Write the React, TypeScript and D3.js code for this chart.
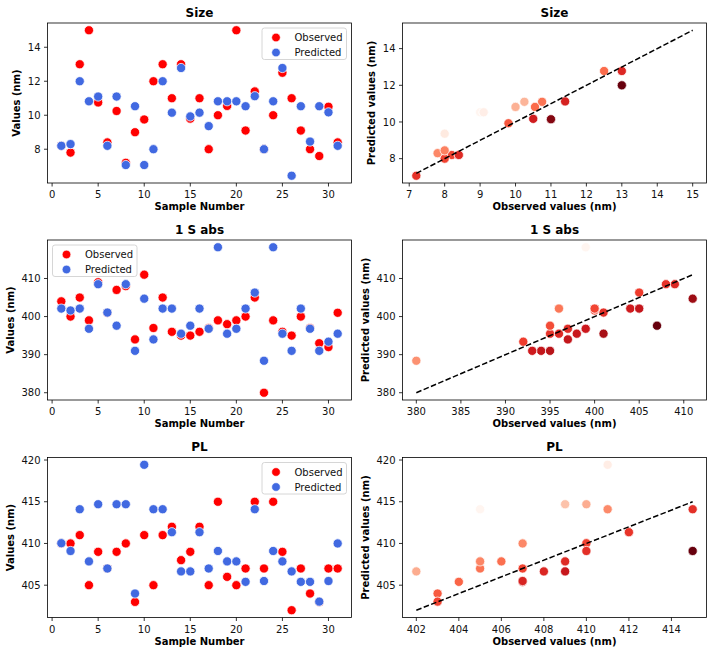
import React from "react";
import * as d3 from "d3";

// ---------------- data ----------------
const sampleNumbers = [
  1, 2, 3, 4, 5, 6, 7, 8, 9, 10, 11, 12, 13, 14, 15, 16, 17, 18, 19, 20, 21, 22, 23, 24, 25, 26, 27, 28, 29, 30, 31,
];

const sizeObserved = [
  8.2, 7.8, 13, 15, 10.75, 8.4, 10.25, 7.2, 9, 9.75, 12, 13, 11, 13, 9.8, 11, 8, 10, 10.55, 15, 9.1, 11.4, 8, 10, 12.5,
  11, 9.1, 8, 7.6, 10.5, 8.4,
];
const sizePredicted = [
  8.2, 8.3, 12, 10.82, 11.1, 8.2, 11.1, 7.07, 10.53, 7.07, 8, 12, 10.15, 12.78, 9.93, 10.15, 9.36, 10.82, 10.82, 10.82,
  10.53, 11.12, 8, 10.82, 12.78, 6.44, 10.53, 8.45, 10.53, 10.17, 8.2,
];
// samples left out of the Size parity plot
const sizeParityExcluded = [4, 10, 11, 20, 26, 29];

const absObserved = [
  404, 400, 405, 399, 409, 401, 407, 408, 394, 411, 397, 405, 396, 395, 395, 396, 397, 399, 398, 399, 400, 405, 380, 399,
  396, 395, 400, 397, 393, 392, 401,
];
const absPredicted = [
  402.1, 401.6, 402.1, 396.8, 408.5, 401.05, 397.6, 408.5, 391, 404.7, 394, 402.1, 402.1, 395.5, 397.6, 402.1, 396.8,
  418.2, 395.5, 396.8, 402.1, 406.3, 388.4, 418.2, 395.5, 391, 402.1, 396.8, 391, 393.4, 395.5,
];

const plObserved = [
  410, 410, 411, 405, 409, 407, 409, 410, 403, 411, 405, 411, 412, 408, 409, 412, 405, 415, 406, 405, 407, 415, 407, 415,
  409, 402, 407, 404, 403, 407, 407,
];
const plPredicted = [
  410.03, 409.1, 414.1, 407.85, 414.7, 407, 414.7, 414.7, 404, 419.43, 414.1, 414.1, 411.35, 406.65, 406.65, 411.35, 407,
  409.1, 407.85, 407.85, 405.4, 414.1, 405.5, 409.1, 407.85, 406.65, 405.4, 405.4, 403.03, 405.5, 410,
];

const titles = ["Size", "1 S abs", "PL"];
const sampleTicks = [0, 5, 10, 15, 20, 25, 30];
const sizeValueTicks = [8, 10, 12, 14];
const absValueTicks = [380, 390, 400, 410];
const plValueTicks = [405, 410, 415, 420];
const sizeObsTicks = [7, 8, 9, 10, 11, 12, 13, 14, 15];
const absObsTicks = [380, 385, 390, 395, 400, 405, 410];
const plObsTicks = [402, 404, 406, 408, 410, 412, 414];
const legendLabels = ["Observed", "Predicted"];

// ---------------- style ----------------
const FONT = "'DejaVu Sans', sans-serif";
const COLS = [47.5, 402.5];
const ROWS = [23, 240, 457.5];
const W = 304;
const H = 160;
const R = 4.6;
const OBS_COLOR = "#ff0000";
const PRED_COLOR = "#4169e1";
const REDS = ["#fff5f0", "#fee0d2", "#fcbba1", "#fc9272", "#fb6a4a", "#ef3b2c", "#cb181d", "#a50f15", "#67000d"];

function padExtent(lo: number, hi: number): [number, number] {
  const m = (hi - lo) * 0.05;
  return [lo - m, hi + m];
}

function redsScale(lo: number, hi: number) {
  return d3
    .scaleLinear<string>()
    .domain(REDS.map((_, i) => lo + ((hi - lo) * i) / (REDS.length - 1)))
    .range(REDS)
    .interpolate(d3.interpolateRgb)
    .clamp(true);
}

function Frame({ x0, y0, title, xLabel, yLabel, xs, ys, xTicks, yTicks, children }: any) {
  const maxChars = d3.max(yTicks.map((t: number) => String(t).length)) as number;
  const yLabelX = x0 - (14.5 + 6.36 * maxChars);
  return (
    <g>
      <rect x={x0} y={y0} width={W} height={H} fill="white" />
      <g>{children}</g>
      <rect x={x0} y={y0} width={W} height={H} fill="none" stroke="black" strokeWidth={0.8} />
      {xTicks.map((t: number) => (
        <g key={"x" + t}>
          <line x1={xs(t)} x2={xs(t)} y1={y0 + H} y2={y0 + H + 3.5} stroke="black" strokeWidth={0.8} />
          <text x={xs(t)} y={y0 + H + 15.3} textAnchor="middle" fontSize={10} fontFamily={FONT} fill="#111">
            {t}
          </text>
        </g>
      ))}
      {yTicks.map((t: number) => (
        <g key={"y" + t}>
          <line x1={x0 - 3.5} x2={x0} y1={ys(t)} y2={ys(t)} stroke="black" strokeWidth={0.8} />
          <text x={x0 - 7} y={ys(t) + 3.6} textAnchor="end" fontSize={10} fontFamily={FONT} fill="#111">
            {t}
          </text>
        </g>
      ))}
      <text x={x0 + W / 2} y={y0 - 6.3} textAnchor="middle" fontSize={12} fontWeight="bold" fontFamily={FONT}>
        {title}
      </text>
      <text x={x0 + W / 2} y={y0 + H + 27.3} textAnchor="middle" fontSize={10} fontWeight="bold" fontFamily={FONT}>
        {xLabel}
      </text>
      <text
        transform={`translate(${yLabelX},${y0 + H / 2}) rotate(-90)`}
        textAnchor="middle"
        fontSize={10}
        fontWeight="bold"
        fontFamily={FONT}
      >
        {yLabel}
      </text>
    </g>
  );
}

function Legend({ x, y }: { x: number; y: number }) {
  const colors = [OBS_COLOR, PRED_COLOR];
  return (
    <g>
      <rect x={x} y={y} width={84.5} height={31.5} rx={2.5} fill="white" fillOpacity={0.8} stroke="#cccccc" strokeWidth={0.8} />
      {legendLabels.map((lab, i) => (
        <g key={lab}>
          <circle cx={x + 14} cy={y + 9.5 + i * 15} r={4.3} fill={colors[i]} stroke="white" strokeWidth={0.6} />
          <text x={x + 32.5} y={y + 13.2 + i * 15} fontSize={10} fontFamily={FONT} fill="#111">
            {lab}
          </text>
        </g>
      ))}
    </g>
  );
}

function SeriesPanel({ row, obs, pred, yTicks, legendRight }: any) {
  const x0 = COLS[0];
  const y0 = ROWS[row];
  const xs = d3.scaleLinear().domain(padExtent(d3.min(sampleNumbers)!, d3.max(sampleNumbers)!)).range([x0, x0 + W]);
  const all = [...obs, ...pred];
  const ys = d3.scaleLinear().domain(padExtent(d3.min(all)!, d3.max(all)!)).range([y0 + H, y0]);
  return (
    <Frame
      x0={x0}
      y0={y0}
      title={titles[row]}
      xLabel="Sample Number"
      yLabel="Values (nm)"
      xs={xs}
      ys={ys}
      xTicks={sampleTicks}
      yTicks={yTicks}
    >
      {obs.map((v: number, i: number) => (
        <circle key={"o" + i} cx={xs(sampleNumbers[i])} cy={ys(v)} r={R} fill={OBS_COLOR} stroke="white" strokeWidth={0.75} />
      ))}
      {pred.map((v: number, i: number) => (
        <circle key={"p" + i} cx={xs(sampleNumbers[i])} cy={ys(v)} r={R} fill={PRED_COLOR} stroke="white" strokeWidth={0.75} />
      ))}
      <Legend x={legendRight ? x0 + W - 5 - 84.5 : x0 + 5} y={y0 + 5} />
    </Frame>
  );
}

function ParityPanel({ row, obs, pred, excluded, xTicks, yTicks }: any) {
  const x0 = COLS[1];
  const y0 = ROWS[row];
  const idx = sampleNumbers.map((s, i) => i).filter((i) => !excluded.includes(sampleNumbers[i]));
  const so = idx.map((i) => obs[i]);
  const sp = idx.map((i) => pred[i]);
  const lineLo = d3.min(obs as number[])!;
  const lineHi = d3.max(obs as number[])!;
  const xs = d3
    .scaleLinear()
    .domain(padExtent(Math.min(d3.min(so)!, lineLo), Math.max(d3.max(so)!, lineHi)))
    .range([x0, x0 + W]);
  const ys = d3
    .scaleLinear()
    .domain(padExtent(Math.min(d3.min(sp)!, lineLo), Math.max(d3.max(sp)!, lineHi)))
    .range([y0 + H, y0]);
  const hue = idx.map((i) => obs[i] - pred[i]);
  const color = redsScale(d3.min(hue)!, d3.max(hue)!);
  const line = d3.line<number>().x((d) => xs(d)).y((d) => ys(d));
  return (
    <Frame
      x0={x0}
      y0={y0}
      title={titles[row]}
      xLabel="Observed values (nm)"
      yLabel="Predicted values (nm)"
      xs={xs}
      ys={ys}
      xTicks={xTicks}
      yTicks={yTicks}
    >
      {idx.map((i, k) => (
        <circle key={i} cx={xs(obs[i])} cy={ys(pred[i])} r={R} fill={color(hue[k])} stroke="white" strokeWidth={0.75} />
      ))}
      <path d={line([lineLo, lineHi])!} fill="none" stroke="black" strokeWidth={1.5} strokeDasharray="5.55,2.4" />
    </Frame>
  );
}

export default function App() {
  return (
    <svg
      width={712}
      height={655}
      viewBox="0 0 712 655"
      style={{ position: "absolute", left: 0, top: 0, background: "white", display: "block" }}
    >
      <rect x={0} y={0} width={712} height={655} fill="white" />
      <SeriesPanel row={0} obs={sizeObserved} pred={sizePredicted} yTicks={sizeValueTicks} legendRight={true} />
      <ParityPanel
        row={0}
        obs={sizeObserved}
        pred={sizePredicted}
        excluded={sizeParityExcluded}
        xTicks={sizeObsTicks}
        yTicks={sizeValueTicks}
      />
      <SeriesPanel row={1} obs={absObserved} pred={absPredicted} yTicks={absValueTicks} legendRight={false} />
      <ParityPanel row={1} obs={absObserved} pred={absPredicted} excluded={[]} xTicks={absObsTicks} yTicks={absValueTicks} />
      <SeriesPanel row={2} obs={plObserved} pred={plPredicted} yTicks={plValueTicks} legendRight={true} />
      <ParityPanel row={2} obs={plObserved} pred={plPredicted} excluded={[]} xTicks={plObsTicks} yTicks={plValueTicks} />
    </svg>
  );
}
